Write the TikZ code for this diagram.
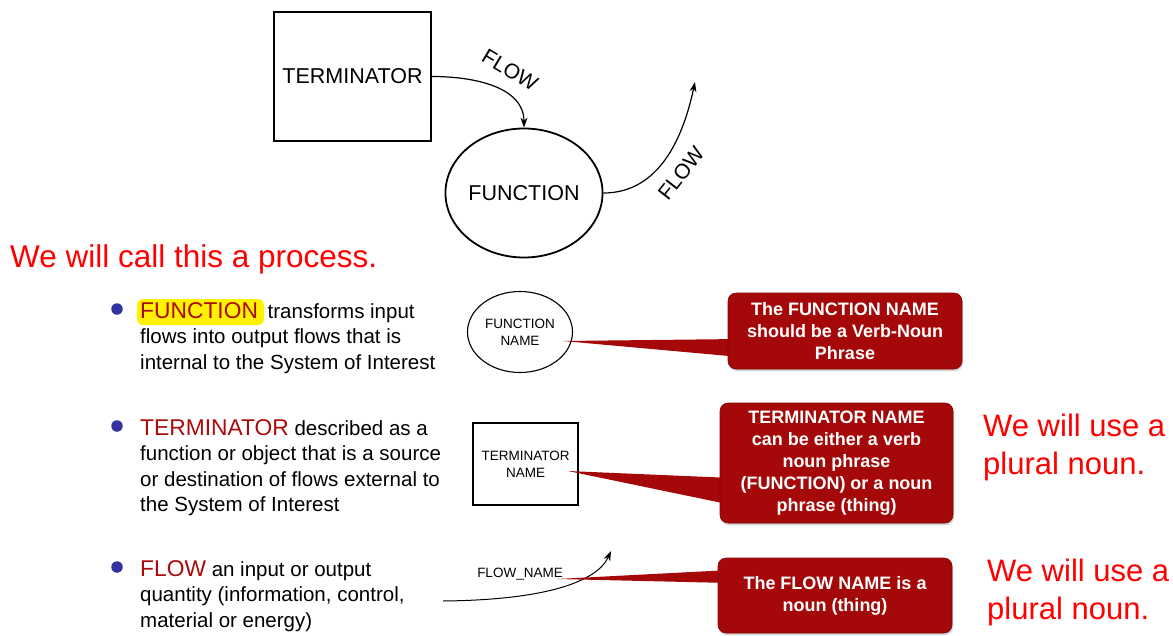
\documentclass[tikz,border=0pt]{standalone}
\usepackage{fontspec}
\setmainfont{Liberation Sans}
\usetikzlibrary{shapes.geometric,arrows.meta,shadows}
\definecolor{callred}{RGB}{165,8,8}
\definecolor{keyred}{RGB}{170,10,10}
\definecolor{bulletblue}{RGB}{51,51,160}
\newcommand{\keyw}[1]{{\fontsize{22.8}{25.5}\selectfont\textcolor{keyred}{#1}}}
\begin{document}
\begin{tikzpicture}[x=1pt,y=-1pt,
 bigshape/.style={draw, line width=1.8pt, inner sep=0, font=\fontsize{21.5}{26}\selectfont},
 smallshape/.style={draw, line width=1.1pt, inner sep=0, align=center, font=\fontsize{13.5}{17}\selectfont},
 flowarrow/.style={-{Stealth[length=10pt,width=7pt]}, line width=1.2pt},
 flowlabel/.style={inner sep=0, font=\fontsize{21}{25}\selectfont},
 bullettext/.style={anchor=west, inner sep=0, align=left, font=\fontsize{20.5}{25.5}\selectfont},
 bulletdot/.style={circle, fill=bulletblue, minimum size=11.5pt, inner sep=0},
 callout/.style={fill=callred, draw=callred!80!black, line width=0.6pt, rounded corners=8pt,
   text=white, align=center, font=\bfseries\fontsize{18}{22}\selectfont, inner sep=0,
   drop shadow={opacity=0.35, shadow xshift=1pt, shadow yshift=-2pt}},
 wedge/.style={fill=callred},
 remark/.style={text=red, anchor=west, inner sep=0, align=left, font=\fontsize{31}{38}\selectfont},
 hilite/.style={fill=yellow, rounded corners=6pt, inner sep=0}]
\useasboundingbox (0,0) rectangle (1173,635);

% top diagram
\node[bigshape, minimum width=157pt, minimum height=129pt] (term) at (352.5,76.5) {TERMINATOR};
\node[bigshape, ellipse, minimum width=146pt, minimum height=129pt] (func) at (524,193) {FUNCTION};
\coordinate (outend) at (695,82);
\draw[flowarrow] (term.east) to[out=0, in=90] (func.north);
\draw[flowarrow] (func.east) to[out=0, in=258] (outend);
\node[flowlabel, rotate=-31] (fl1) at (510,70) {FLOW};
\node[flowlabel, rotate=52] (fl2) at (681,173) {FLOW};

\node[remark, font=\fontsize{31.5}{38}\selectfont] (proc) at (10,259) {We will call this a process.};

% bullet 1
\node[hilite, minimum width=127pt, minimum height=26pt] (hl) at (200.5,312) {};
\node[bulletdot] (b1) at (117,309) {};
\node[bullettext] (t1) at (140,338) {\keyw{FUNCTION}\hspace{4pt} transforms input\\flows into output flows that is\\internal to the System of Interest};
\node[smallshape, ellipse, minimum width=105pt, minimum height=81pt] (fname) at (520,332) {FUNCTION\\NAME};

% bullet 2
\node[bulletdot] (b2) at (117,426) {};
\node[bullettext] (t2) at (140,467.5) {\keyw{TERMINATOR} described as a\\function or object that is a source\\or destination of flows external to\\the System of Interest};
\node[smallshape, minimum width=105pt, minimum height=82pt] (tname) at (525.5,464) {TERMINATOR\\NAME};

% bullet 3
\node[bulletdot] (b3) at (117,567) {};
\node[bullettext] (t3) at (140,596) {\keyw{FLOW} an input or output\\quantity (information, control,\\material or energy)};
\coordinate (fstart) at (443,601);
\coordinate (fend) at (611,551);
\draw[flowarrow, line width=1pt] (fstart) .. controls (545,600) and (597,582) .. (fend);
\node[inner sep=0, font=\fontsize{13.5}{17}\selectfont] (fnl) at (520,574) {FLOW\_NAME};

% callout wedges
\coordinate (tip1) at (563,341);
\coordinate (w1a) at (740,339);
\coordinate (w1b) at (740,357);
\coordinate (tip2) at (568,471);
\coordinate (w2a) at (732,478);
\coordinate (w2b) at (732,505);
\coordinate (tip3) at (557,579);
\coordinate (w3a) at (730,570);
\coordinate (w3b) at (730,583);
\fill[wedge] (tip1) -- (w1a) -- (w1b) -- cycle;
\fill[wedge] (tip2) -- (w2a) -- (w2b) -- cycle;
\fill[wedge] (tip3) -- (w3a) -- (w3b) -- cycle;

% callouts
\node[callout, minimum width=234pt, minimum height=76pt] (c1) at (845,331) {The FUNCTION NAME\\should be a Verb-Noun\\Phrase};
\node[callout, minimum width=233pt, minimum height=120pt] (c2) at (836.5,463) {TERMINATOR NAME\\can be either a verb\\noun phrase\\(FUNCTION) or a noun\\phrase (thing)};
\node[callout, minimum width=234pt, minimum height=75pt] (c3) at (835,595.5) {The FLOW NAME is a\\noun (thing)};

% remarks
\node[remark] (r1) at (983,447) {We will use a\\plural noun.};
\node[remark] (r2) at (987,592) {We will use a\\plural noun.};
\end{tikzpicture}
\end{document}
